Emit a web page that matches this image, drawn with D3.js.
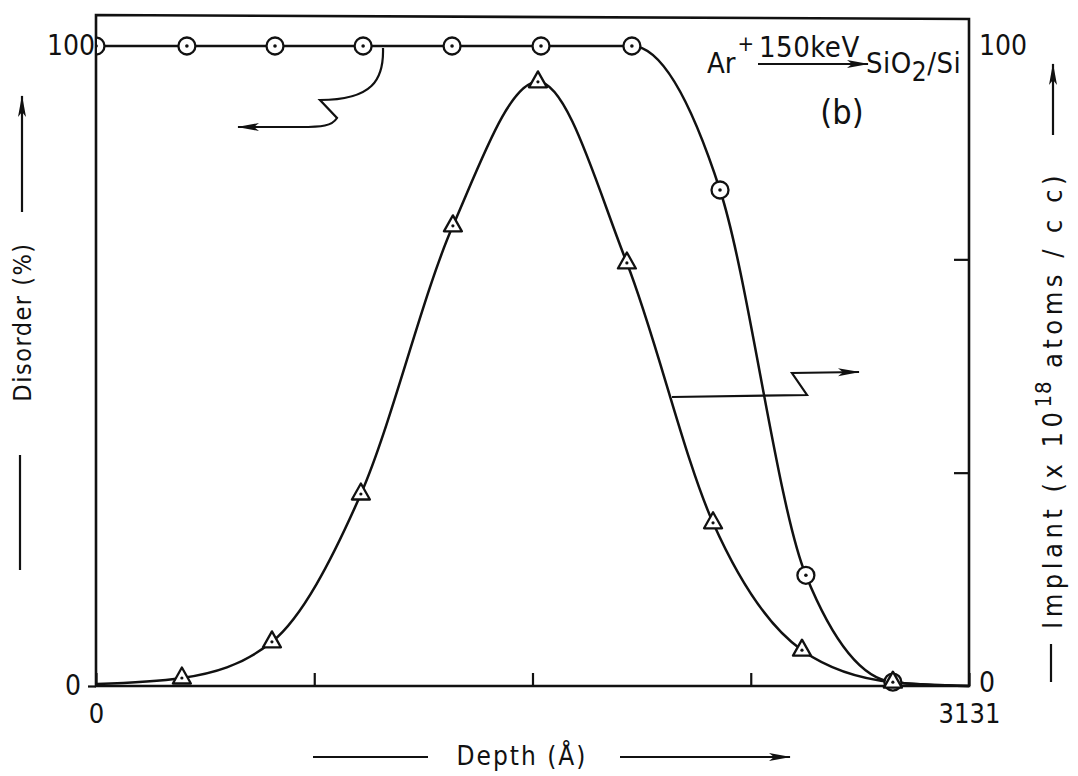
<!DOCTYPE html>
<html>
<head>
<meta charset="utf-8">
<script src="https://cdn.jsdelivr.net/npm/d3@7"></script>
<style>
  html, body { margin: 0; padding: 0; background: #fff; }
  svg { display: block; }
  text { font-family: 'DejaVu Sans Condensed', 'DejaVu Sans', sans-serif; fill: #111; }
  .curve { fill: none; stroke: #111; stroke-width: 2.5; }
  .frame { stroke: #111; stroke-width: 2.6; fill: none; }
  .ann { fill: none; stroke: #111; stroke-width: 2.2; }
</style>
</head>
<body>
<svg id="svg" width="1078" height="776"></svg>
<script>
// ----- data -----
const depthMax = 3131;
const xTicks = [0, 3131 / 4, 3131 / 2, 3 * 3131 / 4, 3131];
const xTickLabels = ["0", "", "", "", "3131"];
const yTicksRight = [0, 100 / 3, 200 / 3, 100];
const yTickLabels = ["0", "", "", "100"];

// disorder (%), circles
const disorderDepth = [0, 326, 642, 958, 1277, 1596, 1922, 2238, 2546, 2858, 3131];
const disorderVal   = [100, 100, 100, 100, 100, 100, 100, 77.5, 17.3, 0.6, 0];
const disorderMarked = 10; // last point is curve end only

// implant (x10^18 atoms/cc), triangles
const implantDepth = [0, 308, 631, 950, 1280, 1585, 1904, 2213, 2532, 2858, 3131];
const implantVal   = [0.3, 1.25, 6.9, 30.0, 71.9, 94.4, 66.1, 25.5, 5.6, 0.6, 0];
const implantMarked = [1, 2, 3, 4, 5, 6, 7, 8, 9];

const svg = d3.select("#svg");

const x = d3.scaleLinear().domain([0, depthMax]).range([96, 969]);
const y = d3.scaleLinear().domain([0, 100]).range([686, 46]);
const yTop = 15;

// ----- frame -----
svg.append("path").attr("class", "frame")
  .attr("d", `M${x(0)},${y(0)} L${x(0)},${yTop} L${x(depthMax)},${yTop + 4} L${x(depthMax)},${y(0)} Z`);

// ----- axes -----
const xAxis = d3.axisBottom(x)
  .tickValues(xTicks)
  .tickSizeInner(-13).tickSizeOuter(0).tickPadding(20)
  .tickFormat((d, i) => xTickLabels[i]);
const gx = svg.append("g").attr("transform", `translate(0,${y(0)})`).call(xAxis);

const rAxis = d3.axisRight(y)
  .tickValues(yTicksRight)
  .tickSizeInner(-15).tickSizeOuter(0).tickPadding(10)
  .tickFormat((d, i) => yTickLabels[i]);
const gr = svg.append("g").attr("transform", `translate(${x(depthMax)},0)`).call(rAxis);

const lAxis = d3.axisLeft(y)
  .tickValues([0, 100])
  .tickSizeInner(8).tickSizeOuter(0).tickPadding(3)
  .tickFormat(d3.format("d"));
const gl = svg.append("g").attr("transform", `translate(${x(0)},0)`).call(lAxis);
gl.selectAll(".tick").filter(d => d === 100).select("line").remove();
gl.selectAll(".tick").filter(d => d === 100).select("text").attr("x", -1);
gr.selectAll(".tick").filter(d => d === 0 || d === 100).select("line").remove();

[gx, gr, gl].forEach(g => {
  g.select(".domain").remove();
  g.selectAll("line").attr("stroke", "#111").attr("stroke-width", 2.2);
  g.selectAll("text").attr("font-size", 28).attr("fill", "#111");
});
gx.selectAll("text").attr("dy", "0.62em").attr("font-size", 27);
gr.selectAll(".tick").filter(d => d === 0).select("text").attr("dy", "0.2em");
gl.selectAll(".tick").filter(d => d === 0).select("text").attr("x", -15);

// ----- curves -----
svg.append("clipPath").attr("id", "plotClip")
  .append("rect").attr("x", x(0) + 1).attr("y", 0).attr("width", x(depthMax) - x(0)).attr("height", y(0) + 10);

const line = d3.line().curve(d3.curveMonotoneX);
const disorderPts = disorderDepth.map((d, i) => [x(d), y(disorderVal[i])]);
const implantPts = implantDepth.map((d, i) => [x(d), y(implantVal[i])]);

const plot = svg.append("g").attr("clip-path", "url(#plotClip)");
plot.append("path").attr("class", "curve").attr("d", line(disorderPts));
plot.append("path").attr("class", "curve").attr("d", line(implantPts));

// circles
const circ = plot.selectAll(".circ").data(disorderPts.slice(0, disorderMarked)).enter()
  .append("g").attr("transform", d => `translate(${d[0]},${d[1]})`);
circ.append("circle").attr("r", 8.5).attr("fill", "#fff").attr("stroke", "#111").attr("stroke-width", 2.3);
circ.append("circle").attr("r", 1.8).attr("fill", "#111");

// triangles
const tri = plot.selectAll(".tri").data(implantMarked.map(i => implantPts[i])).enter()
  .append("g").attr("transform", d => `translate(${d[0]},${d[1]})`);
tri.append("path").attr("d", "M0,-10.5 L9,5.5 L-9,5.5 Z")
  .attr("fill", "#fff").attr("stroke", "#111").attr("stroke-width", 2.3).attr("stroke-linejoin", "round");
tri.append("circle").attr("r", 1.6).attr("cy", 0).attr("fill", "#111");

// ----- arrow heads -----
const defs = svg.append("defs");
defs.append("marker").attr("id", "ah")
  .attr("viewBox", "0 0 22 10").attr("refX", 21).attr("refY", 5)
  .attr("markerWidth", 22).attr("markerHeight", 10).attr("markerUnits", "userSpaceOnUse")
  .attr("orient", "auto")
  .append("path").attr("d", "M0,1 L22,5 L0,9 L5,5 Z").attr("fill", "#111");

// annotation: disorder -> left axis
svg.append("path").attr("class", "ann").attr("marker-end", "url(#ah)")
  .attr("d", "M383,48 C384,80 372,100 320,100 L337,118 C332,126 322,127 300,127 L238,127");
// annotation: implant -> right axis
svg.append("path").attr("class", "ann").attr("marker-end", "url(#ah)")
  .attr("d", "M672,397 L807,395 L792,373 L859,372");

// ----- title -----
const title = svg.append("g");
title.append("text").attr("x", 707).attr("y", 73).attr("font-size", 29)
  .text("Ar").append("tspan").attr("dx", 2).attr("dy", -22).attr("font-size", 22).text("+");
title.append("text").attr("x", 759).attr("y", 57).attr("font-size", 29).attr("letter-spacing", 0.5).text("150keV");
title.append("path").attr("class", "ann").attr("marker-end", "url(#ah)")
  .attr("d", "M758,64 L868,64");
const sio = title.append("text").attr("x", 866).attr("y", 73).attr("font-size", 29).attr("letter-spacing", 0.5);
sio.append("tspan").text("SiO");
sio.append("tspan").attr("dy", 8).attr("font-size", 26).text("2");
sio.append("tspan").attr("dy", -8).text("/Si");
title.append("text").attr("x", 842).attr("y", 124).attr("text-anchor", "middle").attr("font-size", 34).text("(b)");

// ----- axis titles -----
// left
svg.append("path").attr("class", "ann").attr("stroke-width", 2.6).attr("marker-end", "url(#ah)")
  .attr("d", "M22,212 L22,96");
svg.append("text").attr("transform", "translate(31,322) rotate(-90)")
  .attr("text-anchor", "middle").attr("font-size", 25).attr("letter-spacing", 1.5).text("Disorder  (%)");
svg.append("path").attr("class", "ann").attr("stroke-width", 2.6).attr("d", "M20,455 L20,570");

// right
svg.append("path").attr("class", "ann").attr("stroke-width", 2.6).attr("marker-end", "url(#ah)")
  .attr("d", "M1053,135 L1053,64");
const rt = svg.append("text").attr("transform", "translate(1062,400) rotate(-90)")
  .attr("text-anchor", "middle").attr("font-size", 27).attr("letter-spacing", 4.5);
rt.append("tspan").text("Implant  (x 10");
rt.append("tspan").attr("dy", -11).attr("font-size", 22).attr("letter-spacing", 1).text("18");
rt.append("tspan").attr("dy", 11).text("  atoms / c c)");
svg.append("path").attr("class", "ann").attr("stroke-width", 2.6).attr("d", "M1051,644 L1051,682");

// bottom
svg.append("path").attr("class", "ann").attr("stroke-width", 2.6).attr("d", "M313,757 L428,757");
svg.append("text").attr("x", 522).attr("y", 765).attr("text-anchor", "middle").attr("font-size", 26)
  .attr("letter-spacing", 2).text("Depth  (Å)");
svg.append("path").attr("class", "ann").attr("stroke-width", 2.6).attr("marker-end", "url(#ah)")
  .attr("d", "M620,757 L790,757");
</script>
</body>
</html>
